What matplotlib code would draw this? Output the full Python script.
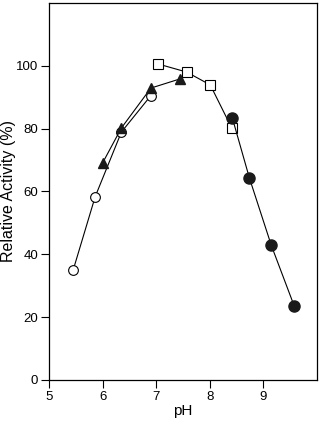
import matplotlib
matplotlib.use("Agg")
import matplotlib.pyplot as plt

plt.rcParams['font.family'] = ['Liberation Sans', 'DejaVu Sans']

# pH profile, four buffer systems
ph_open = [5.45, 5.86, 6.35, 6.90]
act_open = [35.0, 58.3, 78.9, 90.5]

ph_tri = [6.00, 6.35, 6.90, 7.44]
act_tri = [69.1, 80.2, 92.9, 95.8]

ph_sq = [7.03, 7.57, 8.01, 8.41]
act_sq = [100.6, 98.0, 93.9, 80.2]

ph_fill = [8.42, 8.74, 9.15, 9.58]
act_fill = [83.5, 64.3, 42.8, 23.4]

xticks = [5, 6, 7, 8, 9]
yticks = [0, 20, 40, 60, 80, 100]

fig = plt.figure(figsize=(3.23, 4.24), dpi=100)
ax = fig.add_axes([0.152, 0.104, 0.829, 0.889])

lw = 0.8
ms = 7
ax.plot(ph_open, act_open, '-o', color='black', lw=lw, ms=ms, mfc='white', mec='black', mew=0.8)
ax.plot(ph_tri, act_tri, '-^', color='black', lw=lw, ms=ms, mfc='#1a1a1a', mec='#1a1a1a')
ax.plot(ph_sq, act_sq, '-s', color='black', lw=lw, ms=ms, mfc='white', mec='black', mew=0.8)
ax.plot(ph_fill, act_fill, '-o', color='black', lw=lw, ms=ms + 1, mfc='#1a1a1a', mec='#1a1a1a')

ax.set_xlim(5, 10)
ax.set_ylim(0, 120)
ax.set_xticks(xticks)
ax.set_yticks(yticks)
ax.tick_params(direction='out', length=6, width=0.8, labelsize=9.5, pad=2)
for s in ax.spines.values():
    s.set_linewidth(0.9)

ax.set_xlabel('pH', fontsize=11, labelpad=1)
ax.set_ylabel('Relative Activity (%)', fontsize=11.5, labelpad=0)

fig.savefig('out.png', dpi=100)
